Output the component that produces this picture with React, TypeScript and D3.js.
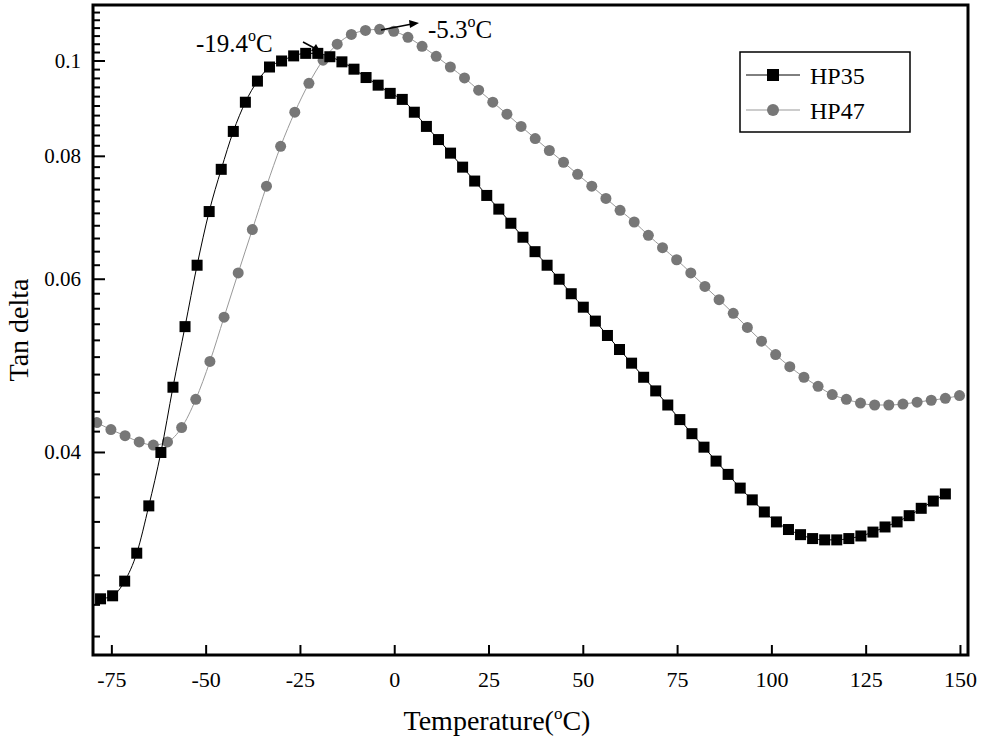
import React from 'react';
import * as d3 from 'd3';

const hp35T = d3.range(71).map((i) => -78 + 3.2 * i);
const hp35 = [
  0.0284, 0.0286, 0.0296, 0.0316, 0.0353, 0.04, 0.0466, 0.0537, 0.062, 0.0703, 0.0776, 0.0848, 0.0908,
  0.0954, 0.0986, 0.1, 0.1012, 0.1018, 0.1018, 0.101, 0.0998, 0.0981, 0.0962, 0.0945, 0.0927, 0.0914,
  0.0887, 0.0858, 0.0832, 0.0806, 0.078, 0.0755, 0.073, 0.0707, 0.0684, 0.0662, 0.064, 0.062, 0.06,
  0.058, 0.0562, 0.0544, 0.0526, 0.0509, 0.0493, 0.0477, 0.0462, 0.0447, 0.0432, 0.0418, 0.0405,
  0.0392, 0.038, 0.0368, 0.0358, 0.0348, 0.034, 0.0334, 0.033, 0.0327, 0.0326, 0.0326, 0.0327, 0.0329,
  0.0332, 0.0336, 0.034, 0.0345, 0.0351, 0.0357, 0.0363,
];
const hp47T = d3.range(62).map((i) => -79 + 3.75 * i);
const hp47 = [
  0.0429, 0.0422, 0.0416, 0.041, 0.0407, 0.041, 0.0424, 0.0453, 0.0495, 0.0549, 0.0609, 0.0674, 0.0746,
  0.0819, 0.0887, 0.0949, 0.1002, 0.104, 0.1064, 0.1074, 0.1077, 0.1072, 0.1057, 0.1035, 0.1011, 0.0986,
  0.0961, 0.0934, 0.0908, 0.0883, 0.0858, 0.0834, 0.0811, 0.0789, 0.0767, 0.0746, 0.0725, 0.0705,
  0.0686, 0.0665, 0.0646, 0.0628, 0.0609, 0.059, 0.0572, 0.0554, 0.0536, 0.0519, 0.0503, 0.0489, 0.0477,
  0.0467, 0.0458, 0.0453, 0.0449, 0.0447, 0.0447, 0.0448, 0.045, 0.0452, 0.0454, 0.0457,
];
const xTicks = [-75, -50, -25, 0, 25, 50, 75, 100, 125, 150];
const yTicks = [0.04, 0.06, 0.08, 0.1];
const yMinor = d3.range(13, 57).map((i) => i * 0.002);

const W = 990, H = 740;

export default function App() {
  const x = d3.scaleLinear().domain([-80, 152]).range([93, 968]);
  const y = d3.scaleLog().domain([0.0249, 0.114]).range([655, 5]);
  const y0 = 655, y1 = 5;
  const x0 = 93, x1 = 968;
  const line = d3.line<[number, number]>().x((d) => x(d[0])).y((d) => y(d[1])).curve(d3.curveMonotoneX);
  const p35 = hp35T.map((t, i) => [t, hp35[i]] as [number, number]);
  const p47 = hp47T.map((t, i) => [t, hp47[i]] as [number, number]);
  const font = 'Times New Roman, Liberation Serif, serif';
  return (
    <svg width={W} height={H} style={{ position: 'absolute', left: 0, top: 0 }} fontFamily={font}>
      <rect x={0} y={0} width={W} height={H} fill="#fff" />
      <defs>
        <clipPath id="c"><rect x={x0} y={y1} width={x1 - x0} height={y0 - y1} /></clipPath>
      </defs>
      <g clipPath="url(#c)">
        <path d={line(p47) || ''} fill="none" stroke="#999" strokeWidth={1} />
        {p47.map((d, i) => <circle key={i} cx={x(d[0])} cy={y(d[1])} r={5.5} fill="#777" />)}
        <path d={line(p35) || ''} fill="none" stroke="#000" strokeWidth={1} />
        {p35.map((d, i) => <rect key={i} x={x(d[0]) - 5.5} y={y(d[1]) - 5.5} width={11} height={11} fill="#000" />)}
      </g>
      <rect x={x0} y={y1} width={x1 - x0} height={y0 - y1} fill="none" stroke="#000" strokeWidth={3} />
      {yMinor.filter((v) => y(v) > y1 && y(v) < y0).map((v) => (
        <line key={v} x1={x0} x2={x0 + (yTicks.some((t) => Math.abs(t - v) < 1e-6) ? 12 : 7)} y1={y(v)} y2={y(v)} stroke="#000" strokeWidth={2} />
      ))}
      {yTicks.map((v) => (
        <text key={v} x={x0 - 12} y={y(v) + 7} textAnchor="end" fontSize={21}>{v}</text>
      ))}
      {xTicks.map((v) => (
        <g key={v}>
          <line x1={x(v)} x2={x(v)} y1={y0} y2={y0 - 10} stroke="#000" strokeWidth={2} />
          <text x={x(v)} y={y0 + 32} textAnchor="middle" fontSize={22}>{v}</text>
        </g>
      ))}
      <text x={497} y={730} textAnchor="middle" fontSize={28}>Temperature(<tspan dy={-11} fontSize={17}>o</tspan><tspan dy={11}>C)</tspan></text>
      <text transform={`translate(28,${(y0 + y1) / 2}) rotate(-90)`} textAnchor="middle" fontSize={28}>Tan delta</text>
      <g fontSize={25}>
        <text x={196} y={52}>-19.4<tspan dy={-11} fontSize={16}>o</tspan><tspan dy={11}>C</tspan></text>
        <text x={428} y={38}>-5.3<tspan dy={-11} fontSize={16}>o</tspan><tspan dy={11}>C</tspan></text>
      </g>
      <line x1={303} y1={42} x2={318} y2={50} stroke="#000" strokeWidth={1.5} />
      <path d="M320,51 L311,51 L316,44 Z" fill="#000" />
      <line x1={381} y1={30} x2={412} y2={24} stroke="#000" strokeWidth={1.5} />
      <path d="M419,23 L409,20 L410,28 Z" fill="#000" />
      <g>
        <rect x={740} y={52} width={170} height={80} fill="#fff" stroke="#000" strokeWidth={1.5} />
        <line x1={746} x2={800} y1={75} y2={75} stroke="#000" />
        <rect x={767} y={69} width={12} height={12} fill="#000" />
        <text x={810} y={84} fontSize={24}>HP35</text>
        <line x1={746} x2={800} y1={110} y2={110} stroke="#999" />
        <circle cx={773} cy={110} r={6} fill="#777" />
        <text x={810} y={119} fontSize={24}>HP47</text>
      </g>
    </svg>
  );
}
